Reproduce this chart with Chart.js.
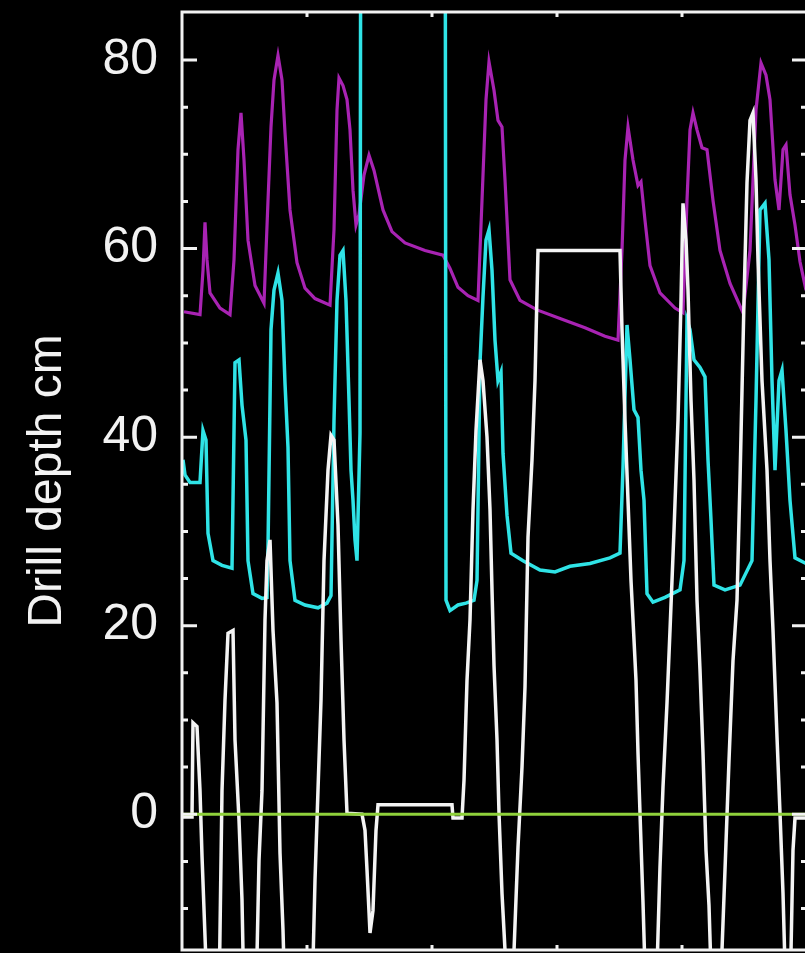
<!DOCTYPE html>
<html>
<head>
<meta charset="utf-8">
<title>Drill depth</title>
<script src="https://cdn.jsdelivr.net/npm/chart.js@4.4.1/dist/chart.umd.min.js"></script>
<style>
    html, body { margin: 0; padding: 0; background: #000; overflow: hidden; }
    canvas { display: block; }
</style>
</head>
<body>
<canvas id="drill" width="815" height="953"></canvas>
<script>
// traces: [time, depth cm]
const purpleTrace = [
    [0.8, 53.3], [7.2, 53.0], [8.4, 57.7], [9.2, 62.8], [10, 58.8], [11.2, 55.3], [15.2, 53.7], [19.2, 53.0],
    [20.8, 58.8], [22.4, 70.5], [23.6, 74.4], [24.8, 69.4], [26.4, 60.9], [29.2, 56.1], [32.8, 54.2],
    [34.4, 65.1], [35.6, 72.9], [36.8, 77.9], [38.4, 80.5], [40, 77.9], [41.2, 72.3], [43.2, 64.1],
    [46, 58.5], [49.2, 55.8], [53.2, 54.7], [59.2, 54.0], [60.8, 62.0], [62, 74.7], [62.8, 78.1],
    [64.4, 77.3], [66, 75.8], [67.2, 72.6], [68.4, 66.2], [69.6, 62.5], [70.8, 63.6], [72.8, 67.8],
    [74.8, 69.9], [76.8, 68.3], [80.4, 64.1], [84, 61.8], [89.2, 60.6], [97.2, 59.8], [104.4, 59.3],
    [107.2, 57.9], [110.4, 55.9], [114.4, 55.0], [118.4, 54.5], [120, 65.1], [121.6, 75.8], [122.8, 79.8],
    [124.8, 76.8], [126.4, 73.6], [128, 72.9], [129.2, 67.3], [131.2, 56.7], [135.2, 54.5], [142, 53.5],
    [151.2, 52.6], [161.2, 51.6], [169.2, 50.7], [174.4, 50.3], [176, 59.8], [177.2, 69.4], [178.4, 72.9],
    [180.4, 69.4], [182.4, 66.7], [183.6, 67.1], [185.2, 63.0], [187.2, 58.2], [191.2, 55.3], [197.2, 53.7],
    [200.4, 53.2], [202, 65.1], [203.2, 72.6], [204.4, 74.4], [206, 72.6], [208, 70.7], [210, 70.5],
    [212.4, 65.1], [215.2, 59.8], [219.2, 56.3], [224.4, 53.2], [227.2, 59.8], [229.6, 74.7], [231.6, 79.7],
    [233.6, 78.4], [235.2, 75.8], [237.2, 67.3], [238.8, 64.1], [240.4, 70.5], [241.6, 71.0], [243.2, 65.7],
    [245.2, 62.5], [247.2, 58.6], [249.6, 55.6]
];

const cyanTrace = [
    [0.4, 37.6], [1.2, 36.0], [3.2, 35.2], [7.2, 35.2], [8.4, 40.7], [9.6, 39.7], [10.4, 29.8], [12.4, 26.9],
    [16, 26.4], [20, 26.1], [21.2, 47.9], [22.8, 48.2], [24, 43.4], [25.6, 39.7], [26.4, 26.9], [28.4, 23.4],
    [32, 22.9], [34, 23.0], [34.4, 28.3], [35.6, 51.4], [36.8, 55.6], [38.4, 57.4], [40, 54.5], [41.2, 45.7],
    [42.4, 38.9], [43.2, 26.9], [45.2, 22.7], [49.2, 22.2], [54.4, 21.9], [58, 22.4], [59.6, 23.2],
    [60.8, 41.8], [62, 54.5], [63.2, 59.3], [64.4, 59.8], [65.6, 54.5], [66.8, 43.9], [67.6, 36.5],
    [68.4, 33.3], [69.2, 29.1], [70, 26.9], [71.2, 40.4], [71.6, 120], [105.2, 120], [105.6, 22.7],
    [107.2, 21.6], [110.4, 22.2], [113.6, 22.4], [116.8, 22.7], [118, 24.8], [119.2, 47.9], [120.4, 54.9],
    [121.6, 60.9], [122.8, 62.0], [124, 57.7], [125.2, 50.3], [126.4, 46.0], [127.6, 46.9], [128.4, 38.3],
    [130, 31.7], [131.6, 27.7], [136.4, 26.9], [143.2, 25.9], [149.2, 25.7], [155.2, 26.3], [163.2, 26.6],
    [171.2, 27.2], [175.2, 27.7], [176.4, 36.8], [178, 51.9], [179.2, 48.2], [180.8, 42.9], [182.4, 42.1],
    [183.6, 36.5], [184.8, 33.3], [186, 23.4], [188.4, 22.5], [193.2, 23.0], [199.2, 23.8], [200.8, 26.9],
    [202, 52.4], [203.2, 51.4], [204.8, 48.2], [207.2, 47.4], [209.2, 46.4], [210.4, 37.6], [211.6, 31.2],
    [212.8, 24.3], [217.2, 23.8], [223.2, 24.3], [228, 26.9], [229.6, 43.9], [231.2, 64.1], [233.2, 64.8],
    [234.8, 58.8], [236, 46.0], [237.2, 36.5], [238.8, 46.0], [240, 47.1], [241.6, 40.7], [243.2, 33.3],
    [245.2, 27.2], [249.6, 26.6]
];

const whiteTrace = [
    [0.4, -0.3], [4, -0.3], [4.4, 9.7], [6, 9.3], [7.2, 2.5], [8, -4.4], [10.2, -20], [14.8, -20],
    [16, 2.5], [17.2, 12.1], [18.4, 19.2], [20.4, 19.5], [21.2, 7.9], [22.8, -0.6], [24, -9.1], [24.8, -20],
    [29.6, -20], [30.8, -4.9], [32, 2.5], [33.2, 20.6], [34, 26.9], [35.2, 29.1], [36.4, 19.5], [38, 11.8],
    [39.2, -4.1], [40.4, -12.3], [41.2, -20], [52, -20], [53.2, -7.0], [54, -0.6], [55.6, 12.1], [56.8, 26.9],
    [58.4, 36.5], [59.6, 40.2], [60.8, 39.7], [62.4, 30.7], [63.6, 18.5], [64.8, 7.9], [66, 0.1], [72, 0],
    [73.2, -1.7], [74, -5.9], [75.2, -12.6], [76.4, -10.2], [77.6, -1.7], [78.4, 1.0], [108, 1.0],
    [108.4, -0.4], [112, -0.4], [112.8, 3.6], [114, 14.2], [115.2, 20.6], [116.4, 32.3], [117.6, 40.7],
    [119.2, 48.2], [120.4, 46.0], [122, 40.0], [123.2, 32.3], [124, 23.8], [124.8, 15.8], [126, 7.9],
    [126.8, 0.1], [128, -8.4], [129.2, -14.4], [129.6, -20], [132, -20], [134.4, -3.5], [136, 5.0],
    [137.2, 13.5], [138.4, 29.4], [140, 37.6], [141.2, 46.0], [142.4, 59.8], [175.2, 59.8], [176, 51.4],
    [177.2, 41.8], [178.4, 33.3], [179.6, 24.8], [180.8, 18.5], [181.6, 14.2], [182.4, 6.5], [183.2, 0.1],
    [184.4, -9.4], [185.6, -20], [189.6, -20], [191.2, -5.6], [192.4, 2.9], [194, 11.8], [195.2, 19.5],
    [196.8, 30.1], [198.4, 41.8], [199.6, 54.5], [200.4, 64.8], [201.6, 60.9], [202.4, 55.6], [203.6, 43.9],
    [204.8, 35.4], [206, 22.7], [207.2, 15.3], [208.4, 6.5], [209.6, -3.8], [210.8, -9.7], [212, -20],
    [215.2, -20], [217.2, -5.9], [218.8, 5.7], [220.4, 16.3], [222, 22.7], [223.2, 35.4], [224.8, 54.5],
    [226, 67.0], [227.2, 73.6], [228.4, 74.4], [229.6, 67.3], [230.4, 58.8], [232, 46.0], [234, 36.5],
    [235.2, 26.9], [236.4, 19.5], [238, 8.2], [239.2, 0.1], [240.4, -8.4], [241.6, -20], [243.2, -20],
    [244.4, -3.8], [245.2, -0.4], [249.6, -0.4]
];

const zeroLine = [[0, 0], [250, 0]];

const yTicks = [-10, -5, 0, 5, 10, 15, 20, 25, 30, 35, 40, 45, 50, 55, 60, 65, 70, 75, 80];
const xTicks = [50, 100, 150, 200];

const toPoints = (trace) => trace.map(p => ({ x: p[0], y: p[1] }));

// frame + inward tick marks, like the original plot
const frameTicks = {
    id: 'frameTicks',
    afterDatasetsDraw(chart) {
        const { ctx, chartArea: a, scales } = chart;
        ctx.save();
        ctx.strokeStyle = '#f2f2f2';
        ctx.lineWidth = 3;
        ctx.strokeRect(a.left, a.top, a.right - a.left, a.bottom - a.top);
        ctx.beginPath();
        yTicks.forEach(v => {
            const y = scales.y.getPixelForValue(v);
            const len = v % 20 === 0 ? 15 : 6;
            ctx.moveTo(a.left, y);
            ctx.lineTo(a.left + len, y);
            ctx.moveTo(a.right, y);
            ctx.lineTo(a.right - len, y);
        });
        xTicks.forEach(v => {
            const x = scales.x.getPixelForValue(v);
            ctx.moveTo(x, a.top);
            ctx.lineTo(x, a.top + 5);
            ctx.moveTo(x, a.bottom);
            ctx.lineTo(x, a.bottom - 5);
        });
        ctx.stroke();
        ctx.restore();
    }
};

const line = (data, color, width) => ({
    data: toPoints(data),
    borderColor: color,
    borderWidth: width,
    pointRadius: 0,
    tension: 0,
    fill: false
});

new Chart(document.getElementById('drill'), {
    type: 'line',
    data: {
        datasets: [
            line(zeroLine, '#8fd13b', 3),
            line(whiteTrace, '#f4f4f4', 3.5),
            line(cyanTrace, '#2fe3e6', 3.5),
            line(purpleTrace, '#a823b3', 3.2)
        ]
    },
    options: {
        responsive: false,
        animation: false,
        layout: { padding: { left: 0, top: 12, right: 8, bottom: 3 } },
        plugins: {
            legend: { display: false },
            tooltip: { enabled: false }
        },
        scales: {
            x: {
                type: 'linear',
                min: 0,
                max: 250,
                display: false
            },
            y: {
                type: 'linear',
                min: -14.4,
                max: 85.1,
                afterFit: (scale) => {
                    scale.width = 182;
                    scale.paddingTop = 0;
                    scale.paddingBottom = 0;
                },
                afterBuildTicks: (scale) => { scale.ticks = yTicks.map(v => ({ value: v })); },
                grid: { display: false, drawTicks: false },
                border: { display: false },
                ticks: {
                    autoSkip: false,
                    padding: 24,
                    color: '#f2f2f2',
                    font: { family: 'Liberation Sans, Arial, sans-serif', size: 50 },
                    callback: (v) => (v % 20 === 0 ? v : '')
                },
                title: {
                    display: true,
                    text: 'Drill depth cm',
                    color: '#f2f2f2',
                    font: { family: 'Liberation Sans, Arial, sans-serif', size: 48 },
                    padding: { top: 19, bottom: 0 }
                }
            }
        }
    },
    plugins: [frameTicks]
});
</script>
</body>
</html>
